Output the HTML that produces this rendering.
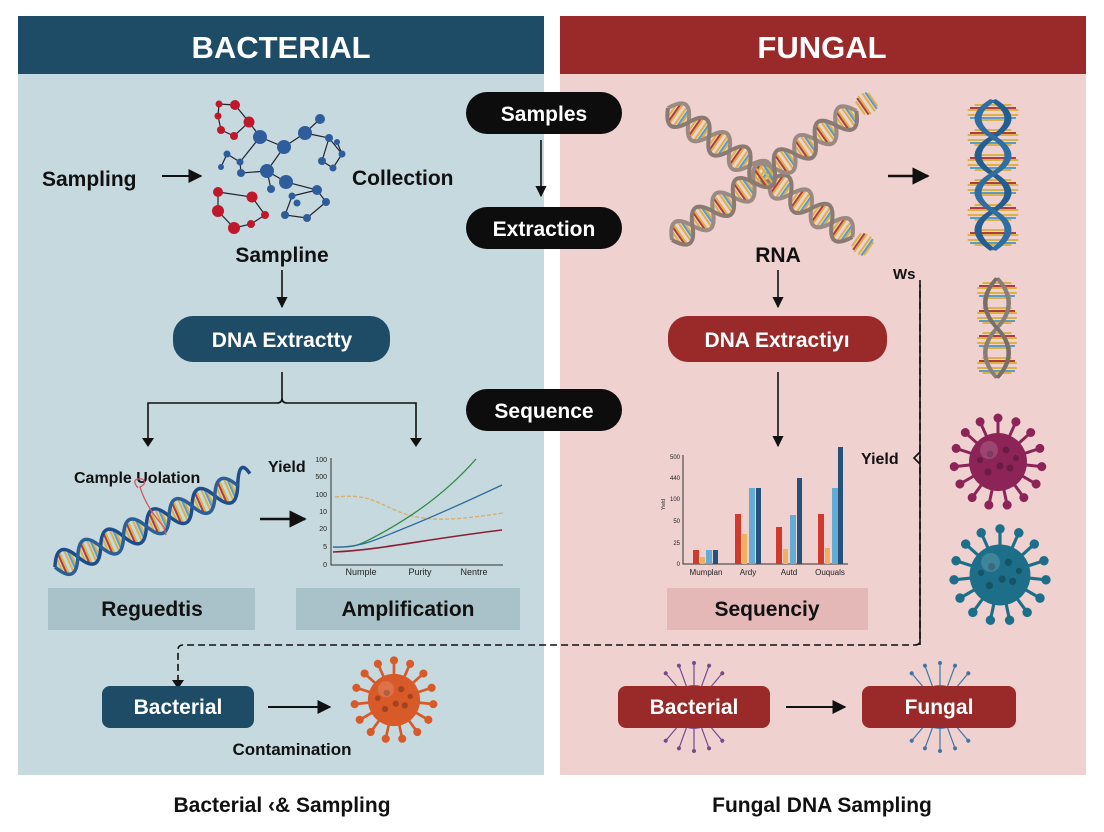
<!DOCTYPE html>
<html><head><meta charset="utf-8"><style>
html,body{margin:0;padding:0;background:#fff}
svg{display:block}
text{font-family:"Liberation Sans",sans-serif}
</style></head><body>
<svg width="1104" height="832" viewBox="0 0 1104 832" xmlns="http://www.w3.org/2000/svg">
<defs>
<marker id="ah" viewBox="0 0 10 10" refX="9" refY="5" markerWidth="7" markerHeight="7" orient="auto"><path d="M0,0L10,5L0,10z" fill="#111"/></marker>
<g id="sp"><line x1="0" y1="0" x2="0" y2="-44" stroke="currentColor" stroke-width="3"/><circle cx="0" cy="-44" r="4.5" fill="currentColor"/></g>
<g id="spt"><line x1="0" y1="0" x2="0" y2="-44" stroke="currentColor" stroke-width="1.2"/><circle cx="0" cy="-44" r="2" fill="currentColor"/></g>
<g id="vir">
<use href="#sp"/><use href="#sp" transform="rotate(24)"/><use href="#sp" transform="rotate(48)"/><use href="#sp" transform="rotate(72)"/><use href="#sp" transform="rotate(96)"/><use href="#sp" transform="rotate(120)"/><use href="#sp" transform="rotate(144)"/><use href="#sp" transform="rotate(168)"/><use href="#sp" transform="rotate(192)"/><use href="#sp" transform="rotate(216)"/><use href="#sp" transform="rotate(240)"/><use href="#sp" transform="rotate(264)"/><use href="#sp" transform="rotate(288)"/><use href="#sp" transform="rotate(312)"/><use href="#sp" transform="rotate(336)"/>
<circle r="29" fill="currentColor"/>
<circle cx="-8" cy="-8" r="3.5" fill="#000" opacity=".25"/><circle cx="8" cy="-12" r="3.5" fill="#000" opacity=".25"/><circle cx="12" cy="6" r="3.5" fill="#000" opacity=".25"/><circle cx="-10" cy="10" r="3.5" fill="#000" opacity=".25"/><circle cx="2" cy="4" r="3.5" fill="#000" opacity=".25"/><circle cx="-18" cy="-2" r="3" fill="#000" opacity=".25"/><circle cx="18" cy="-4" r="3" fill="#000" opacity=".25"/>
<circle cx="-9" cy="-12" r="9" fill="#fff" opacity=".15"/>
</g>
<g id="virt">
<use href="#spt"/><use href="#spt" transform="rotate(20)"/><use href="#spt" transform="rotate(40)"/><use href="#spt" transform="rotate(140)"/><use href="#spt" transform="rotate(160)"/><use href="#spt" transform="rotate(180)"/><use href="#spt" transform="rotate(200)"/><use href="#spt" transform="rotate(220)"/><use href="#spt" transform="rotate(320)"/><use href="#spt" transform="rotate(340)"/>
<circle r="22" fill="currentColor"/>
</g>
<g id="hel">
<g stroke="#d9b34a" stroke-width="2"><path d="M5,-8V8M10,-11V11M15,-11V11M20,-8V8M30,-8V8M35,-11V11M40,-11V11M45,-8V8"/></g>
<g stroke="#b23b3b" stroke-width="2"><path d="M8,-10V10M33,-10V10"/></g>
<g stroke="#5b9bc4" stroke-width="2"><path d="M18,-10V10M43,-10V10"/></g>
</g>
</defs>

<!-- panels -->
<rect x="18" y="16" width="526" height="759" fill="#c6d9df"/>
<rect x="18" y="16" width="526" height="58" fill="#1e4c66"/>
<rect x="560" y="16" width="526" height="759" fill="#efd1d0"/>
<rect x="560" y="16" width="526" height="58" fill="#9a2929"/>
<text x="281" y="58" font-size="31" font-weight="bold" fill="#fff" text-anchor="middle">BACTERIAL</text>
<text x="822" y="58" font-size="31" font-weight="bold" fill="#fff" text-anchor="middle">FUNGAL</text>

<!-- center pills -->
<rect x="466" y="92" width="156" height="42" rx="21" fill="#0d0d0d"/>
<text x="544" y="121" font-size="21" font-weight="bold" fill="#fff" text-anchor="middle">Samples</text>
<line x1="541" y1="140" x2="541" y2="196" stroke="#111" stroke-width="1.6" marker-end="url(#ah)"/>
<rect x="466" y="207" width="156" height="42" rx="21" fill="#0d0d0d"/>
<text x="544" y="236" font-size="21" font-weight="bold" fill="#fff" text-anchor="middle">Extraction</text>
<rect x="466" y="389" width="156" height="42" rx="21" fill="#0d0d0d"/>
<text x="544" y="418" font-size="21" font-weight="bold" fill="#fff" text-anchor="middle">Sequence</text>

<!-- left top -->
<text x="42" y="186" font-size="21" font-weight="bold" fill="#111">Sampling</text>
<line x1="162" y1="176" x2="201" y2="176" stroke="#111" stroke-width="2" marker-end="url(#ah)"/>
<text x="352" y="185" font-size="21" font-weight="bold" fill="#111">Collection</text>
<g stroke="#223" stroke-width="1.2" fill="none">
<path d="M219,104L235,105L249,122L234,136L221,130L218,116L219,104M249,122L260,137L284,147L305,133L320,119M305,133L329,138L342,154L333,168L322,161L329,138M284,147L267,171L286,182L317,190L326,202L307,218L285,215L292,196L317,190M260,137L240,162L241,173L267,171M227,154L240,162M221,167L227,154M271,189L267,171M218,192L252,197L265,215L251,224L234,228L218,211L218,192M337,142L342,154"/>
</g>
<g fill="#c0182a"><circle cx="235" cy="105" r="5"/><circle cx="219" cy="104" r="3.5"/><circle cx="218" cy="116" r="3.5"/><circle cx="221" cy="130" r="4"/><circle cx="234" cy="136" r="4"/><circle cx="249" cy="122" r="5.5"/>
<circle cx="218" cy="192" r="5"/><circle cx="252" cy="197" r="5.5"/><circle cx="218" cy="211" r="6"/><circle cx="234" cy="228" r="6"/><circle cx="251" cy="224" r="4"/><circle cx="265" cy="215" r="4"/></g>
<g fill="#2f5d9c"><circle cx="260" cy="137" r="7"/><circle cx="284" cy="147" r="7"/><circle cx="305" cy="133" r="7"/><circle cx="320" cy="119" r="5"/><circle cx="329" cy="138" r="4"/><circle cx="337" cy="142" r="3"/><circle cx="342" cy="154" r="3.5"/><circle cx="322" cy="161" r="4"/><circle cx="333" cy="168" r="3.5"/><circle cx="267" cy="171" r="7"/><circle cx="286" cy="182" r="7"/><circle cx="271" cy="189" r="4"/><circle cx="240" cy="162" r="3.5"/><circle cx="227" cy="154" r="3.5"/><circle cx="221" cy="167" r="3"/><circle cx="241" cy="173" r="4"/><circle cx="317" cy="190" r="5"/><circle cx="326" cy="202" r="4"/><circle cx="292" cy="196" r="3.5"/><circle cx="285" cy="215" r="4"/><circle cx="307" cy="218" r="4"/><circle cx="297" cy="203" r="3.5"/></g>
<text x="282" y="262" font-size="21" font-weight="bold" fill="#111" text-anchor="middle">Sampline</text>
<line x1="282" y1="270" x2="282" y2="307" stroke="#111" stroke-width="1.6" marker-end="url(#ah)"/>
<rect x="173" y="316" width="217" height="46" rx="20" fill="#1e4c66"/>
<text x="282" y="347" font-size="21" font-weight="bold" fill="#fff" text-anchor="middle">DNA Extractty</text>
<path d="M282,372V398Q282,403 277,403H148V444M282,398Q282,403 287,403H416V444" stroke="#111" stroke-width="1.6" fill="none"/>
<path d="M142,438L148,447L154,438z M410,438L416,447L422,438z" fill="#111"/>

<!-- helix left -->
<text x="74" y="483" font-size="16" font-weight="bold" fill="#111">Cample Uolation</text>
<g transform="translate(55,567) rotate(-24)">
<use href="#hel"/><use href="#hel" x="50"/><use href="#hel" x="100"/><use href="#hel" x="150"/>
<path d="M0,0Q12.5,-26 25,0T50,0T75,0T100,0T125,0T150,0T175,0T200,0T216,-6" stroke="#1f4d8a" stroke-width="3.5" fill="none"/>
<path d="M0,0Q12.5,26 25,0T50,0T75,0T100,0T125,0T150,0T175,0T200,0" stroke="#2b5f96" stroke-width="3.5" fill="none"/>
</g>
<path d="M138,488q-8,-10 4,-9q6,4 -2,8q6,20 24,40l2,8" stroke="#d9545a" stroke-width="1.3" fill="none"/>
<line x1="260" y1="519" x2="305" y2="519" stroke="#111" stroke-width="2.5" marker-end="url(#ah)"/>

<!-- line chart -->
<text x="268" y="472" font-size="16" font-weight="bold" fill="#111">Yield</text>
<g font-size="7" fill="#222" text-anchor="end"><text x="327" y="462">100</text><text x="327" y="479">500</text><text x="327" y="497">100</text><text x="327" y="514">10</text><text x="327" y="531">20</text><text x="327" y="549">5</text><text x="327" y="567">0</text></g>
<path d="M331,458V565H503" stroke="#333" stroke-width="1" fill="none"/>
<g font-size="9" fill="#222" text-anchor="middle"><text x="361" y="575">Numple</text><text x="420" y="575">Purity</text><text x="474" y="575">Nentre</text></g>
<path d="M335,497C365,494 372,500 395,510S440,523 503,513" stroke="#d9ad6a" stroke-width="1.3" stroke-dasharray="4,2" fill="none"/>
<path d="M333,547C355,548 360,545 380,534S440,500 476,459" stroke="#2f8a3e" stroke-width="1.3" fill="none"/>
<path d="M333,547C360,548 375,540 400,530S470,500 502,485" stroke="#2d6d9e" stroke-width="1.3" fill="none"/>
<path d="M333,552C380,550 420,540 502,530" stroke="#8b2035" stroke-width="1.6" fill="none"/>

<rect x="48" y="588" width="207" height="42" fill="#a9c2c9"/>
<text x="152" y="616" font-size="21" font-weight="bold" fill="#111" text-anchor="middle">Reguedtis</text>
<rect x="296" y="588" width="224" height="42" fill="#a9c2c9"/>
<text x="408" y="616" font-size="21" font-weight="bold" fill="#111" text-anchor="middle">Amplification</text>

<!-- dashed connector -->
<path d="M920,280V640Q920,645 915,645H183Q178,645 178,650V686" stroke="#111" stroke-width="1.6" fill="none" stroke-dasharray="7,4"/>
<line x1="920" y1="285" x2="920" y2="645" stroke="#111" stroke-width="1.6"/>
<path d="M920,452L914,458L920,464" stroke="#111" stroke-width="1.6" fill="none"/>
<path d="M172,680L178,689L184,680z" fill="#111"/>

<!-- bottom left -->
<rect x="102" y="686" width="152" height="42" rx="8" fill="#1e4c66"/>
<text x="178" y="714" font-size="21" font-weight="bold" fill="#fff" text-anchor="middle">Bacterial</text>
<line x1="268" y1="707" x2="330" y2="707" stroke="#111" stroke-width="2" marker-end="url(#ah)"/>
<g transform="translate(394,700) scale(.9)" color="#d85a28"><use href="#vir"/></g>
<text x="292" y="755" font-size="17" font-weight="bold" fill="#111" text-anchor="middle">Contamination</text>

<!-- right helices -->
<g transform="translate(668,108) rotate(35)">
<use href="#hel"/><use href="#hel" x="50"/><use href="#hel" x="100"/><use href="#hel" x="150"/><use href="#hel" x="200"/>
<path d="M0,0Q12.5,-26 25,0T50,0T75,0T100,0T125,0T150,0T175,0T200,0T225,0" stroke="#9a8a82" stroke-width="4" fill="none"/>
<path d="M0,0Q12.5,26 25,0T50,0T75,0T100,0T125,0T150,0T175,0T200,0T225,0" stroke="#8a7a72" stroke-width="4" fill="none"/>
</g>
<g transform="translate(672,240) rotate(-35)">
<use href="#hel"/><use href="#hel" x="50"/><use href="#hel" x="100"/><use href="#hel" x="150"/><use href="#hel" x="200"/>
<path d="M0,0Q12.5,-26 25,0T50,0T75,0T100,0T125,0T150,0T175,0T200,0T225,0" stroke="#9a8a82" stroke-width="4" fill="none"/>
<path d="M0,0Q12.5,26 25,0T50,0T75,0T100,0T125,0T150,0T175,0T200,0T225,0" stroke="#8a7a72" stroke-width="4" fill="none"/>
</g>
<line x1="888" y1="176" x2="928" y2="176" stroke="#111" stroke-width="2.5" marker-end="url(#ah)"/>
<g transform="translate(993,100) rotate(90) scale(1,2.3)">
<use href="#hel"/><use href="#hel" x="50"/><use href="#hel" x="100"/>
<path d="M0,0Q18.5,-13 37,0T74,0T111,0T150,0" stroke="#245d8f" stroke-width="3" fill="none"/>
<path d="M0,0Q18.5,13 37,0T74,0T111,0T150,0" stroke="#2e6ea3" stroke-width="3" fill="none"/>
</g>
<g transform="translate(997,278) rotate(90) scale(1,1.8)">
<use href="#hel"/><use href="#hel" x="50"/>
<path d="M0,0Q25,-13 50,0T100,0" stroke="#8a7f78" stroke-width="2.5" fill="none"/>
<path d="M0,0Q25,13 50,0T100,0" stroke="#7a6f68" stroke-width="2.5" fill="none"/>
</g>
<text x="778" y="262" font-size="21" font-weight="bold" fill="#111" text-anchor="middle">RNA</text>
<line x1="778" y1="270" x2="778" y2="307" stroke="#111" stroke-width="1.6" marker-end="url(#ah)"/>
<text x="893" y="279" font-size="15" font-weight="bold" fill="#111">Ws</text>
<rect x="668" y="316" width="219" height="46" rx="20" fill="#9a2929"/>
<text x="777" y="347" font-size="21" font-weight="bold" fill="#fff" text-anchor="middle">DNA Extractiyı</text>
<line x1="778" y1="372" x2="778" y2="446" stroke="#111" stroke-width="1.6" marker-end="url(#ah)"/>

<!-- bar chart -->
<g font-size="6" fill="#222" text-anchor="end"><text x="680" y="459">500</text><text x="680" y="480">440</text><text x="680" y="501">100</text><text x="680" y="523">50</text><text x="680" y="545">25</text><text x="680" y="566">0</text></g>
<text x="665" y="510" font-size="5" fill="#222" transform="rotate(-90 665 510)">Yield</text>
<path d="M683,455V564H848" stroke="#333" stroke-width="1" fill="none"/>
<g>
<rect x="693" y="550" width="6" height="14" fill="#d03a2c"/><rect x="700" y="557" width="5" height="7" fill="#f0b060"/><rect x="706" y="550" width="6" height="14" fill="#62acd6"/><rect x="713" y="550" width="5" height="14" fill="#24527a"/>
<rect x="735" y="514" width="6" height="50" fill="#d03a2c"/><rect x="742" y="534" width="5" height="30" fill="#f0b060"/><rect x="749" y="488" width="6" height="76" fill="#62acd6"/><rect x="756" y="488" width="5" height="76" fill="#24527a"/>
<rect x="776" y="527" width="6" height="37" fill="#d03a2c"/><rect x="783" y="549" width="5" height="15" fill="#f0b060"/><rect x="790" y="515" width="6" height="49" fill="#62acd6"/><rect x="797" y="478" width="5" height="86" fill="#24527a"/>
<rect x="818" y="514" width="6" height="50" fill="#d03a2c"/><rect x="825" y="548" width="5" height="16" fill="#f0b060"/><rect x="832" y="488" width="6" height="76" fill="#62acd6"/><rect x="838" y="447" width="5" height="117" fill="#24527a"/>
</g>
<g font-size="8" fill="#222" text-anchor="middle"><text x="706" y="575">Mumplan</text><text x="748" y="575">Ardy</text><text x="789" y="575">Autd</text><text x="830" y="575">Ouquals</text></g>
<text x="861" y="464" font-size="16" font-weight="bold" fill="#111">Yield</text>
<rect x="667" y="588" width="201" height="42" fill="#e3b8b7"/>
<text x="767" y="616" font-size="21" font-weight="bold" fill="#111" text-anchor="middle">Sequenciy</text>

<!-- viruses right -->
<g transform="translate(998,462)" color="#8c2458"><use href="#vir"/></g>
<g transform="translate(1000,575) scale(1.05)" color="#1d6f89"><use href="#vir"/></g>
<g transform="translate(694,707)" color="#6d3a8a" opacity=".9"><use href="#virt"/></g>
<g transform="translate(940,707)" color="#2f6aa0" opacity=".9"><use href="#virt"/></g>
<rect x="618" y="686" width="152" height="42" rx="8" fill="#9a2929"/>
<text x="694" y="714" font-size="21" font-weight="bold" fill="#fff" text-anchor="middle">Bacterial</text>
<line x1="786" y1="707" x2="845" y2="707" stroke="#111" stroke-width="2" marker-end="url(#ah)"/>
<rect x="862" y="686" width="154" height="42" rx="8" fill="#9a2929"/>
<text x="939" y="714" font-size="21" font-weight="bold" fill="#fff" text-anchor="middle">Fungal</text>

<text x="282" y="812" font-size="21" font-weight="bold" fill="#111" text-anchor="middle">Bacterial ‹&amp; Sampling</text>
<text x="822" y="812" font-size="21" font-weight="bold" fill="#111" text-anchor="middle">Fungal DNA Sampling</text>
</svg>
</body></html>
